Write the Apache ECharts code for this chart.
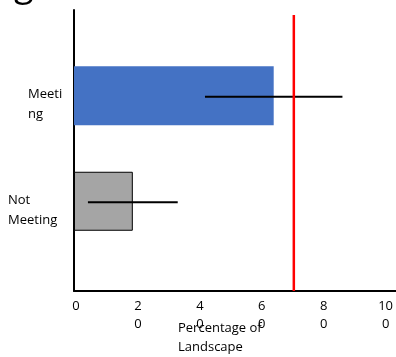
<!DOCTYPE html>
<html><head><meta charset="utf-8">
<script src="https://cdn.jsdelivr.net/npm/echarts@6/dist/echarts.min.js"></script>
<style>html,body{margin:0;padding:0;background:#fff}#c{width:396px;height:357px}</style>
</head><body><div id="c"></div>
<script>
// ---- data ----
const categories = ['Not Meeting', 'Meeting'];
const percentValues = [19, 64.5];
const errorMargins = [14.5, 22.2];
const targetValue = 71;
const xTicks = [0, 20, 40, 60, 80, 100];
const titleFragment = 'g';
const xAxisTitle = ['Percentage of', 'Landscape'];
const categoryLabelLines = { 'Meeting': ['Meeti', 'ng'], 'Not Meeting': ['Not', 'Meeting'] };

const FONT = 'Open Sans';
const xMax = 104;
const barColors = ['#A5A5A5', '#4472C4'];

const chart = echarts.init(document.getElementById('c'));
chart.setOption({
  animation: false,
  title: {
    text: titleFragment, left: 9, top: -37,
    textStyle: { fontFamily: FONT, fontSize: 36, fontWeight: 'normal', color: '#000' }
  },
  grid: [
    { left: 74, right: 0, top: 10, bottom: 66, outerBoundsMode: 'none' },
    { left: 74, right: 0, top: 43, height: 211, outerBoundsMode: 'none' }
  ],
  xAxis: [
    {
      gridIndex: 0, type: 'value', min: 0, max: xMax, interval: 20,
      splitLine: { show: false }, axisTick: { show: false },
      axisLine: { show: true, onZero: true, lineStyle: { color: '#000', width: 2 } },
      axisLabel: {
        fontFamily: FONT, fontSize: 13, color: '#000', margin: 6, lineHeight: 18,
        padding: [0, 0, 0, 4],
        showMaxLabel: false,
        formatter: function (v) {
          if (xTicks.indexOf(v) < 0) return '';
          const s = String(v);
          return s.length > 1 ? s.slice(0, -1) + '\n' + s.slice(-1) : s;
        }
      },
      name: xAxisTitle.map(t => '{a|' + t + '}').join('\n'),
      nameLocation: 'middle', nameGap: 28, nameMoveOverlap: false,
      nameTextStyle: {
        fontFamily: FONT, fontSize: 13, color: '#000', lineHeight: 19,
        padding: [0, 30, 0, 0],
        rich: { a: { width: 84, align: 'left', fontFamily: FONT, fontSize: 13, lineHeight: 19, color: '#000' } }
      }
    },
    { gridIndex: 1, type: 'value', min: 0, max: xMax, show: false }
  ],
  yAxis: [
    {
      gridIndex: 0, type: 'value', min: 0, max: 1,
      axisLabel: { show: false }, axisTick: { show: false }, splitLine: { show: false },
      axisLine: { show: true, lineStyle: { color: '#000', width: 2 } }
    },
    {
      gridIndex: 1, type: 'category', data: categories,
      axisLine: { show: false }, axisTick: { show: false }, splitLine: { show: false },
      axisLabel: {
        margin: 11, align: 'right', padding: [18, 0, 0, 0],
        fontFamily: FONT, fontSize: 13, color: '#000', lineHeight: 20,
        formatter: function (v) {
          const key = v === 'Meeting' ? 'm' : 'n';
          return categoryLabelLines[v].map(t => '{' + key + '|' + t + '}').join('\n');
        },
        rich: {
          m: { width: 35, align: 'left', fontFamily: FONT, fontSize: 13, lineHeight: 20, color: '#000' },
          n: { width: 55, align: 'left', fontFamily: FONT, fontSize: 13, lineHeight: 20, color: '#000' }
        }
      }
    }
  ],
  series: [
    {
      type: 'bar', xAxisIndex: 1, yAxisIndex: 1, barWidth: 59,
      data: percentValues.map((v, i) => ({
        value: v,
        itemStyle: {
          color: barColors[i],
          borderColor: i === 0 ? '#000' : barColors[i],
          borderWidth: i === 0 ? 1 : 0
        }
      })),
      z: 2
    },
    {
      type: 'custom', xAxisIndex: 1, yAxisIndex: 1, z: 3,
      encode: { x: [0, 1], y: 2 },
      data: percentValues.map((v, i) => [v - errorMargins[i], v + errorMargins[i], i]),
      renderItem: function (params, api) {
        const p1 = api.coord([api.value(0), api.value(2)]);
        const p2 = api.coord([api.value(1), api.value(2)]);
        return {
          type: 'line',
          shape: { x1: p1[0], y1: p1[1] + 1, x2: p2[0], y2: p2[1] + 1 },
          style: { stroke: '#000', lineWidth: 2 }
        };
      }
    },
    {
      type: 'custom', xAxisIndex: 0, yAxisIndex: 0, z: 4,
      encode: { x: 0 },
      data: [[targetValue]],
      renderItem: function (params, api) {
        const x = api.coord([api.value(0), 0])[0];
        const cs = params.coordSys;
        return {
          type: 'line',
          shape: { x1: x, y1: cs.y + 5, x2: x, y2: cs.y + cs.height },
          style: { stroke: '#FF0000', lineWidth: 2.5 }
        };
      }
    }
  ]
});
</script>
</body></html>
